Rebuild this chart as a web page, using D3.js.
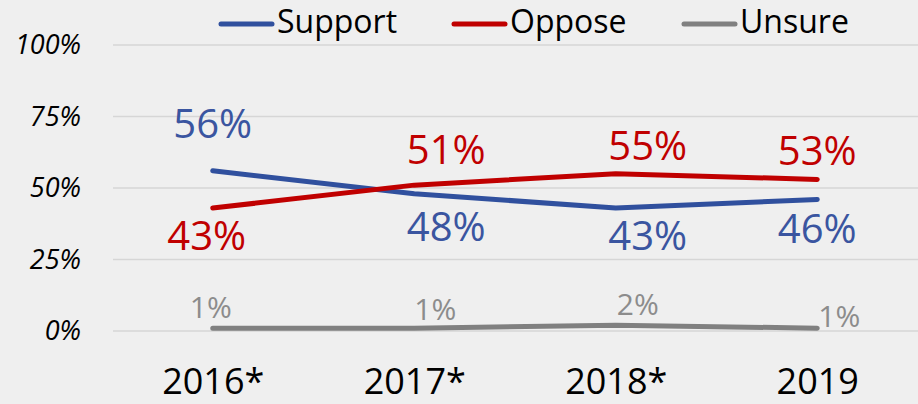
<!DOCTYPE html>
<html>
<head>
<meta charset="utf-8">
<script src="https://cdn.jsdelivr.net/npm/d3@7"></script>
<style>
  html, body { margin: 0; padding: 0; background: #efefef; }
  svg { display: block; font-family: "Open Sans", sans-serif; }
</style>
</head>
<body>
<svg id="chart" width="918" height="404"></svg>
<script>
// data
let years = ["2016*", "2017*", "2018*", "2019"];
let support = [56, 48, 43, 46];
let oppose = [43, 51, 55, 53];
let unsure = [1, 1, 2, 1];
let yTicks = [0, 25, 50, 75, 100];

// label nudges (px from the point), same as the original slide
let supportLabelOffset = [[0, -33], [32, 47], [32, 42], [0, 44]];
let opposeLabelOffset = [[-6, 42], [32, -21], [32, -14], [0, -14]];
let unsureLabelOffset = [[-2, -10], [21, -8], [22, -10], [22, -1]];

let series = [
  {name: "Support", values: support, color: "#30509e", labelColor: "#3a55a0", off: supportLabelOffset, size: 40},
  {name: "Oppose", values: oppose, color: "#c00000", labelColor: "#c00000", off: opposeLabelOffset, size: 40},
  {name: "Unsure", values: unsure, color: "#808080", labelColor: "#8c8c8c", off: unsureLabelOffset, size: 30}
];

let svg = d3.select("#chart"),
    margin = {top: 45, right: 0, bottom: 73, left: 112},
    width = +svg.attr("width") - margin.left - margin.right,
    height = +svg.attr("height") - margin.top - margin.bottom;

let x = d3.scalePoint().domain(years).range([margin.left, margin.left + width]).padding(0.5);
let y = d3.scaleLinear().domain([0, 100]).range([margin.top + height + 0, margin.top]);

// GRID
svg.append("g")
  .selectAll("line")
  .data(yTicks)
  .enter().append("line")
  .attr("x1", 113)
  .attr("x2", 918)
  .attr("y1", d => y(d))
  .attr("y2", d => y(d))
  .attr("stroke", "#d6d6d6")
  .attr("stroke-width", 1.5);

// Y AXIS
let yAxis = svg.append("g")
  .attr("transform", "translate(88,0)")
  .call(d3.axisLeft(y).tickValues(yTicks).tickFormat(d => d + "%").tickSize(0).tickPadding(7));
yAxis.select(".domain").remove();
yAxis.selectAll("text")
  .style("font-size", "27px")
  .style("font-style", "italic")
  .style("font-family", "'Open Sans', sans-serif")
  .attr("fill", "#000");

// X AXIS
let xAxis = svg.append("g")
  .attr("transform", "translate(0,394)")
  .call(d3.axisBottom(x).tickSize(0).tickPadding(0));
xAxis.select(".domain").remove();
xAxis.selectAll("text")
  .attr("y", 0)
  .attr("dy", 0)
  .style("font-size", "36px")
  .style("font-family", "'Open Sans', sans-serif")
  .attr("fill", "#000");

// LINES
let line = d3.line()
  .x((d, i) => x(years[i]))
  .y(d => y(d));

series.forEach(s => {
  svg.append("path")
    .datum(s.values)
    .attr("fill", "none")
    .attr("stroke", s.color)
    .attr("stroke-width", 5)
    .attr("stroke-linecap", "round")
    .attr("stroke-linejoin", "round")
    .attr("d", line);

  svg.append("g")
    .selectAll("text")
    .data(s.values)
    .enter().append("text")
    .attr("x", (d, i) => x(years[i]) + s.off[i][0])
    .attr("y", (d, i) => y(d) + s.off[i][1])
    .attr("text-anchor", "middle")
    .attr("fill", s.labelColor)
    .style("font-size", s.size + "px")
    .text(d => d + "%");
});

// LEGENDS
let legendX = [219, 452, 682];
let legend = svg.append("g")
  .selectAll("g")
  .data(series)
  .enter().append("g")
  .attr("transform", (d, i) => "translate(" + legendX[i] + ",24)");

legend.append("line")
  .attr("x1", 2)
  .attr("x2", 53)
  .attr("stroke", d => d.color)
  .attr("stroke-width", 5)
  .attr("stroke-linecap", "round");

legend.append("text")
  .attr("x", 58)
  .attr("y", 9)
  .style("font-size", "32px")
  .attr("fill", "#000")
  .text(d => d.name);
</script>
</body>
</html>
